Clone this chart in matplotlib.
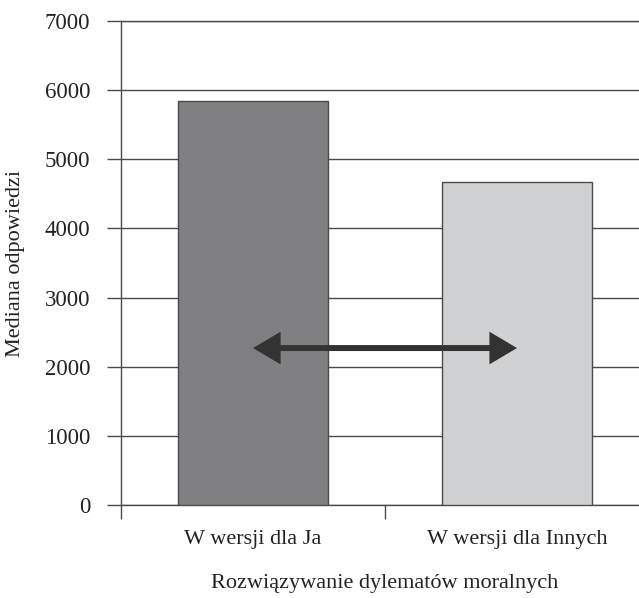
import matplotlib.pyplot as plt
from matplotlib.patches import FancyArrowPatch

plt.rcParams['font.family'] = ['Liberation Serif', 'DejaVu Serif']

# data
categories = ['W wersji dla Ja', 'W wersji dla Innych']
medians = [5840, 4670]
bar_colors = ['#808083', '#d0d1d3']
arrow_level = 2270
y_ticks = [0, 1000, 2000, 3000, 4000, 5000, 6000, 7000]

LINE = '#4a4a4a'

fig = plt.figure(figsize=(6.39, 5.98), dpi=100)
# axes runs slightly past the right edge of the figure, as in the source
ax = fig.add_axes([121 / 639, 93 / 598, 528 / 639, 484 / 598])

x = range(len(categories))
ax.bar(x, medians, width=0.57, color=bar_colors, edgecolor=LINE,
       linewidth=1.0, zorder=3)

ax.set_xlim(-0.5, 1.5)
ax.set_ylim(0, 7000)
ax.set_yticks(y_ticks)
ax.yaxis.grid(True, color=LINE, linewidth=1.0, zorder=0)
ax.set_axisbelow(True)

# category ticks sit on the boundaries, labels in the middle
ax.set_xticks([-0.5, 0.5, 1.5])
ax.set_xticklabels([])
ax.set_xticks(list(x), minor=True)
ax.set_xticklabels(categories, minor=True)
ax.tick_params(axis='x', which='minor', length=0, pad=18, labelsize=16)
ax.tick_params(axis='x', which='major', length=10, width=1.0, color=LINE)
ax.tick_params(axis='y', length=10, width=1.0, color=LINE, pad=12,
               labelsize=16.5)

for s in ['right']:
    ax.spines[s].set_visible(False)
for s in ['left', 'bottom', 'top']:
    ax.spines[s].set_color(LINE)
    ax.spines[s].set_linewidth(1.0)

ax.set_xlabel('Rozwiązywanie dylematów moralnych', fontsize=16,
              labelpad=18, color='#222222')
ax.set_ylabel('Mediana odpowiedzi', fontsize=16, labelpad=14,
              color='#222222')
for lab in ax.get_xticklabels(minor=True) + ax.get_yticklabels():
    lab.set_color('#222222')

# double-headed arrow between the two bar centres
arrow = FancyArrowPatch((0, arrow_level), (1, arrow_level),
                        arrowstyle='<|-|>,head_length=13.5,head_width=8',
                        mutation_scale=1, shrinkA=0, shrinkB=0,
                        color='#333333', linewidth=4.3, joinstyle='miter',
                        capstyle='butt', zorder=5)
ax.add_patch(arrow)

fig.savefig('out.png', dpi=100)
